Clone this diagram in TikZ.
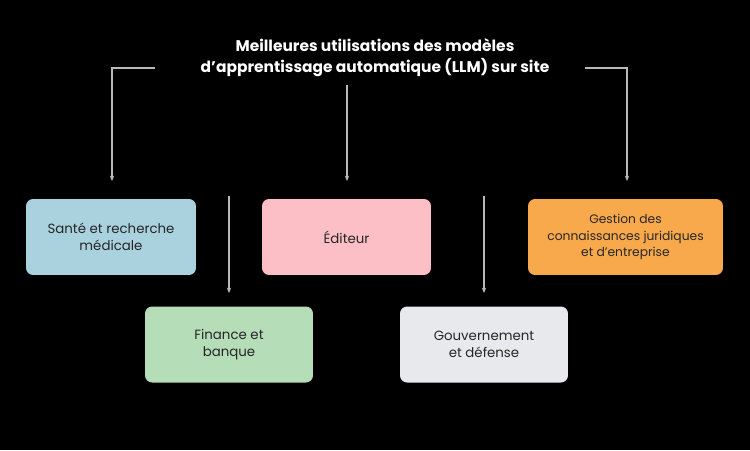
\documentclass[tikz,border=0pt]{standalone}
\usepackage{fontspec}
\setmainfont{Poppins}
\usetikzlibrary{arrows.meta}
\definecolor{santec}{HTML}{A9D1DE}
\definecolor{editc}{HTML}{FBBFC5}
\definecolor{gestc}{HTML}{F8A94B}
\definecolor{finc}{HTML}{B5DDB8}
\definecolor{gouvc}{HTML}{E8E9EC}
\definecolor{linec}{HTML}{B8B8B8}
\tikzset{
  box/.style={rounded corners=4pt, minimum width=3.4cm, minimum height=1.52cm, align=center, font=\fontsize{7.6}{10}\selectfont, text=black!85},
  arr/.style={draw=linec, line width=0.6pt, -{Stealth[length=3pt,width=2.5pt]}},
}
\begin{document}
\begin{tikzpicture}[x=0.02cm,y=-0.02cm]
	\fill[black] (0,0) rectangle (750,450);
	\node[text=white, font=\bfseries\fontsize{8.8}{12}\selectfont, align=center] (title) at (375,58) {Meilleures utilisations des modèles\\d'apprentissage automatique (LLM) sur site};
	\node[box, fill=santec, minimum width=3.4cm] (sante) at (111,237) {Santé et recherche\\médicale};
	\node[box, fill=editc, minimum width=3.38cm] (editeur) at (346.5,237) {Éditeur};
	\node[box, fill=gestc, minimum width=3.9cm, font=\fontsize{7}{9.5}\selectfont] (gestion) at (625.5,237) {Gestion des\\connaissances juridiques\\et d'entreprise};
	\node[box, fill=finc, minimum width=3.36cm] (finance) at (229,344.5) {Finance et\\banque};
	\node[box, fill=gouvc, minimum width=3.36cm] (gouv) at (484,344.5) {Gouvernement\\et défense};
	% connectors
	\coordinate (l0) at (155,68);
	\coordinate (r0) at (585,68);
	\coordinate (m0) at (347,85);
	\coordinate (f0) at (229,196);
	\coordinate (g0) at (484,196);
	\draw[arr] (l0) -- (112,68) -- (112,181);
	\draw[arr] (r0) -- (627,68) -- (627,181);
	\draw[arr] (m0) -- (347,181);
	\draw[arr] (f0) -- (finance.north |- 0,293);
	\draw[arr] (g0) -- (gouv.north |- 0,293);
\end{tikzpicture}
\end{document}
